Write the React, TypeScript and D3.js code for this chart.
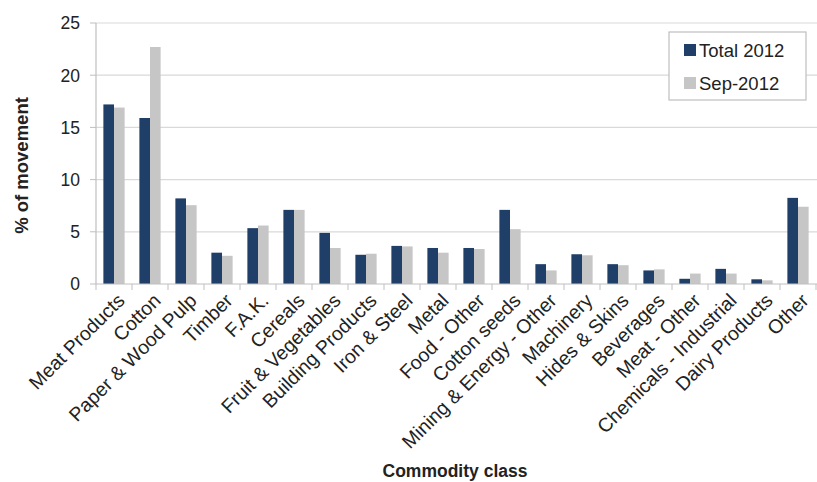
import * as React from 'react';
import * as d3 from 'd3';

const categories = [
  'Meat Products', 'Cotton', 'Paper & Wood Pulp', 'Timber', 'F.A.K.', 'Cereals',
  'Fruit & Vegetables', 'Building Products', 'Iron & Steel', 'Metal', 'Food - Other',
  'Cotton seeds', 'Mining & Energy - Other', 'Machinery', 'Hides & Skins', 'Beverages',
  'Meat - Other', 'Chemicals - Industrial', 'Dairy Products', 'Other',
];

const total2012 = [17.2, 15.9, 8.2, 3.0, 5.35, 7.1, 4.9, 2.8, 3.65, 3.45, 3.45, 7.1, 1.9, 2.85, 1.9, 1.3, 0.5, 1.45, 0.45, 8.25];
const sep2012 = [16.9, 22.7, 7.55, 2.7, 5.6, 7.1, 3.45, 2.9, 3.6, 3.0, 3.35, 5.25, 1.3, 2.75, 1.8, 1.4, 1.0, 1.0, 0.35, 7.4];

const seriesNames = ['Total 2012', 'Sep-2012'];
const seriesColors = ['#1F3F68', '#C6C6C6'];
const yTicks = [0, 5, 10, 15, 20, 25];

const W = 817;
const H = 482;
const left = 96;
const right = 816;
const top = 23;
const bottom = 284;
const font = 'Arial, "Liberation Sans", sans-serif';

export default function App() {
  const x = d3.scaleBand<string>()
    .domain(categories)
    .range([left, right])
    .paddingInner(0.41)
    .paddingOuter(0.205);
  const xs = d3.scaleBand<string>().domain(seriesNames).range([0, x.bandwidth()]);
  const y = d3.scaleLinear().domain([0, 25]).range([bottom, top]);
  const series = [total2012, sep2012];
  const step = x.step();

  return (
    <svg width={W} height={H} style={{ position: 'absolute', left: 0, top: 0, background: '#fff' }}
      fontFamily={font}>
      {/* gridlines */}
      {yTicks.filter((t) => t > 0).map((t) => (
        <line key={t} x1={left} x2={W} y1={y(t)} y2={y(t)} stroke="#D9D9D9" strokeWidth={1.2} />
      ))}
      {/* y ticks + labels */}
      {yTicks.map((t) => (
        <g key={'yt' + t}>
          <line x1={left - 6} x2={left} y1={y(t)} y2={y(t)} stroke="#BFBFBF" />
          <text x={left - 16} y={y(t)} dy="0.36em" textAnchor="end" fontSize={17.5} fill="#222">{t}</text>
        </g>
      ))}
      {/* bars */}
      {categories.map((c, i) => (
        <g key={c} transform={`translate(${x(c)},0)`}>
          {series.map((s, j) => (
            <rect key={j} x={xs(seriesNames[j])} y={y(s[i])} width={xs.bandwidth()}
              height={y(0) - y(s[i])} fill={seriesColors[j]} />
          ))}
        </g>
      ))}
      {/* axes */}
      <line x1={left} x2={left} y1={top} y2={bottom} stroke="#BFBFBF" strokeWidth={1.2} />
      <line x1={left} x2={W} y1={bottom} y2={bottom} stroke="#BFBFBF" strokeWidth={1.2} />
      {d3.range(categories.length + 1).map((i) => (
        <line key={'xt' + i} x1={left + i * step} x2={left + i * step} y1={bottom} y2={bottom + 6}
          stroke="#BFBFBF" />
      ))}
      {/* category labels */}
      {categories.map((c) => {
        const cx = (x(c) as number) + x.bandwidth() / 2 + 7;
        return (
          <text key={'l' + c} transform={`translate(${cx},${bottom + 13}) rotate(-45)`}
            textAnchor="end" fontSize={19.5} fill="#222" dy="0.35em">{c}</text>
        );
      })}
      {/* axis titles */}
      <text transform={`translate(28,${(top + bottom) / 2 + 12}) rotate(-90)`} textAnchor="middle"
        fontSize={18.5} fontWeight="bold" fill="#222">% of movement</text>
      <text x={455} y={477} textAnchor="middle" fontSize={17.5} fontWeight="bold" fill="#222">Commodity class</text>
      {/* legend */}
      <rect x={669} y={32} width={137} height={68} fill="#fff" stroke="#BFBFBF" strokeWidth={1.2} />
      {seriesNames.map((n, j) => (
        <g key={n} transform={`translate(684,${44 + j * 33})`}>
          <rect width={12} height={12} fill={seriesColors[j]} />
          <text x={15} y={6} dy="0.36em" fontSize={18.5} fill="#222">{n}</text>
        </g>
      ))}
    </svg>
  );
}
